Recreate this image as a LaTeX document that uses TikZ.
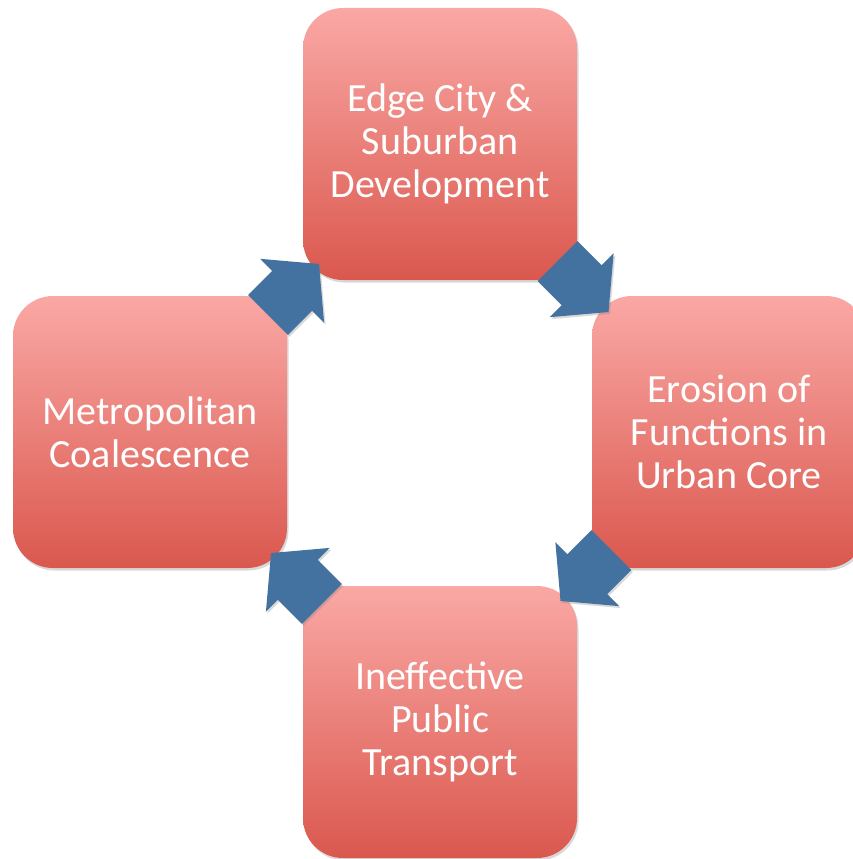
\documentclass[tikz,border=0pt]{standalone}
\usepackage{fontspec}
\setmainfont{Carlito}
\definecolor{BoxTop}{RGB}{250,168,165}
\definecolor{BoxBottom}{RGB}{218,88,78}
\definecolor{ArrowBlue}{RGB}{67,113,160}
\usetikzlibrary{shapes.arrows, shadows, calc}

\begin{document}
\begin{tikzpicture}[x=1pt, y=-1pt,
    stage/.style={rectangle, rounded corners=40pt, minimum width=274pt, minimum height=272pt,
      top color=BoxTop, bottom color=BoxBottom, text=white, align=center,
      font=\fontsize{40}{43}\selectfont,
      drop shadow={shadow xshift=1.5pt, shadow yshift=-2.5pt, opacity=.3}},
    flow/.style={single arrow, fill=ArrowBlue, inner xsep=0pt, inner ysep=28pt,
      text height=0pt, text depth=0pt, minimum height=72pt,
      single arrow head extend=17pt, single arrow tip angle=100,
      drop shadow={shadow xshift=1.5pt, shadow yshift=-2pt, opacity=.3}}]
  \useasboundingbox (0,0) rectangle (852,859);
  %   \draw (0,0) rectangle (852,859);
  \node[stage] (edge) at (440,144) {Edge City \&\\Suburban\\Development};
  \node[stage] (erosion) at (729,432) {Erosion of\\Functions in\\Urban Core};
  \node[flow, rotate=-45] (e2e) at ($(edge)!.466!(erosion)$) {};
  \node[stage] (transport) at (440,722) {Ineffective\\Public\\Transport};
  \node[flow, rotate=-135] (e2t) at ($(erosion)!.466!(transport)$) {};
  \node[stage] (metro) at (150,432) {Metropolitan\\Coalescence};
  \node[flow, rotate=135] (t2m) at ($(transport)!.466!(metro)$) {};
  \node[flow, rotate=45] (m2e) at ($(metro)!.466!(edge)$) {};
\end{tikzpicture}
\end{document}
